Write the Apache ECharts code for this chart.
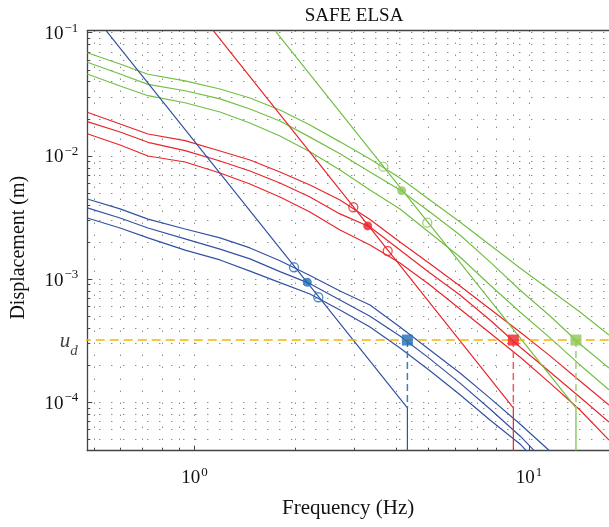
<!DOCTYPE html>
<html><head><meta charset="utf-8">
<script src="https://cdn.jsdelivr.net/npm/echarts@6/dist/echarts.min.js"></script>
<style>html,body{margin:0;padding:0;background:#fff}#c{width:609px;height:527px}</style>
</head><body><div id="c"></div>
<script>
// ---- data ----
const fGrid = [0.478, 0.599, 0.726, 0.937, 1.192, 1.465, 1.801, 2.214, 2.723, 3.347, 4.115, 5.058, 6.220, 7.646, 9.400, 11.56, 14.21, 17.35];
const blueTop = [4.47e-3, 3.71e-3, 3.07e-3, 2.55e-3, 2.16e-3, 1.79e-3, 1.41e-3, 1.07e-3, 8.01e-4, 6.16e-4, 4.09e-4, 2.66e-4, 1.73e-4, 1.08e-4, 6.67e-5];
const blueMid = [3.78e-3, 3.13e-3, 2.60e-3, 2.12e-3, 1.75e-3, 1.46e-3, 1.15e-3, 9.18e-4, 6.77e-4, 4.99e-4, 3.45e-4, 2.25e-4, 1.43e-4, 8.82e-5, 5.33e-5];
const blueLow = [3.13e-3, 2.60e-3, 2.16e-3, 1.72e-3, 1.43e-3, 1.16e-3, 9.35e-4, 7.57e-4, 5.61e-4, 4.09e-4, 2.76e-4, 1.80e-4, 1.15e-4, 7.18e-5, 4.59e-5];
const blueEnds = [[11.56, 4.0e-5], [10.42, 4.0e-5], [9.86, 4.0e-5]];
const redTop = [2.26e-2, 1.815e-2, 1.506e-2, 1.329e-2, 1.096e-2, 9.26e-3, 7.40e-3, 5.80e-3, 4.39e-3, 3.04e-3, 2.00e-3, 1.33e-3, 8.79e-4, 5.72e-4, 3.72e-4, 2.38e-4, 1.49e-4, 9.51e-5];
const redMid = [1.895e-2, 1.563e-2, 1.289e-2, 1.102e-2, 9.09e-3, 7.54e-3, 6.03e-3, 4.64e-3, 3.38e-3, 2.65e-3, 1.72e-3, 1.12e-3, 7.43e-4, 4.66e-4, 2.81e-4, 1.76e-4, 1.10e-4, 6.92e-5];
const redLow = [1.514e-2, 1.226e-2, 9.98e-3, 8.92e-3, 7.26e-3, 5.91e-3, 4.64e-3, 3.50e-3, 2.50e-3, 1.89e-3, 1.35e-3, 8.96e-4, 5.72e-4, 3.65e-4, 2.33e-4, 1.43e-4, 8.66e-5, 4.94e-5];
const greenTop = [6.88e-2, 5.57e-2, 4.60e-2, 4.06e-2, 3.49e-2, 2.95e-2, 2.36e-2, 1.78e-2, 1.30e-2, 9.44e-3, 6.62e-3, 4.39e-3, 2.91e-3, 1.89e-3, 1.23e-3, 8.16e-4, 5.41e-4, 3.52e-4];
const greenMid = [5.75e-2, 4.62e-2, 3.81e-2, 3.38e-2, 2.90e-2, 2.40e-2, 1.92e-2, 1.42e-2, 1.04e-2, 7.40e-3, 5.29e-3, 3.50e-3, 2.28e-3, 1.38e-3, 8.16e-4, 5.02e-4, 2.97e-4, 1.90e-4];
const greenLow = [4.62e-2, 3.69e-2, 3.08e-2, 2.70e-2, 2.27e-2, 1.85e-2, 1.45e-2, 1.08e-2, 7.68e-3, 5.29e-3, 3.71e-3, 2.37e-3, 1.51e-3, 8.96e-4, 5.41e-4, 3.33e-4, 2.01e-4, 1.26e-4];
const steepTopF = [0.544, 1.138, 1.741];
const verticalF = [4.33, 8.98, 13.82];
const kneeD = 9.0e-5;
const uD = 3.2e-4;
const uDStartF = 0.46;
const filledPts = [[2.174, 9.42e-4], [3.295, 2.70e-3], [4.163, 5.22e-3]];
const hollowPts = [[[1.984, 1.247e-3], [2.345, 7.12e-4]], [[2.984, 3.83e-3], [3.781, 1.69e-3]], [[3.667, 8.17e-3], [4.966, 2.87e-3]]];
const yTicks = [1e-4, 1e-3, 1e-2, 1e-1];
const xRange = [0.478, 17.35];
const yRange = [4.045e-5, 0.1038];

// ---- build ----
const lineCols = ['#3452A3', '#E8262B', '#72BF44'];
const markCols = ['#1F6DB8', '#EC2227', '#8DC75A'];
const dashCols = ['#3E7CC0', '#EE5A5E', '#9CD07A'];
const curves = [[blueTop, blueMid, blueLow], [redTop, redMid, redLow], [greenTop, greenMid, greenLow]];
const serif = 'Liberation Serif, Times New Roman, serif';

function pairs(arr, end) {
  const out = arr.map((d, i) => [fGrid[i], d]);
  if (end) out.push(end);
  return out;
}
const series = [];
curves.forEach((grp, gi) => {
  grp.forEach((arr, ci) => {
    series.push({type: 'line', data: pairs(arr, gi === 0 ? blueEnds[ci] : null), showSymbol: false, clip: true,
      lineStyle: {color: lineCols[gi], width: 1.2}, z: 3, silent: true});
  });
});
for (let gi = 0; gi < 3; gi++) {
  series.push({type: 'line', data: [[steepTopF[gi], yRange[1]], [verticalF[gi], kneeD], [verticalF[gi], yRange[0]]],
    showSymbol: false, clip: true, lineStyle: {color: lineCols[gi], width: 1.2}, z: 3, silent: true});
}
// u_d dashed line
series.push({type: 'line', data: [[uDStartF, uD], [xRange[1], uD]], showSymbol: false, clip: false,
  lineStyle: {color: '#F7B500', type: [9, 5], width: 1.5}, z: 5, silent: true});
series.push({type: 'scatter', data: [[uDStartF, uD]], symbolSize: 0, clip: false, silent: true, z: 5,
  label: {show: true, position: 'left', distance: 4, formatter: '{u|u}{d|d}',
    rich: {u: {fontFamily: serif, fontStyle: 'italic', fontSize: 21, color: '#111', verticalAlign: 'bottom', lineHeight: 24},
           d: {fontFamily: serif, fontStyle: 'italic', fontSize: 15, color: '#111', verticalAlign: 'bottom', padding: [0, 0, -7, 0]}}}});
for (let gi = 0; gi < 3; gi++) {
  series.push({type: 'line', data: [[verticalF[gi], uD], [verticalF[gi], kneeD]], showSymbol: false,
    lineStyle: {color: dashCols[gi], width: 1.5, type: [7, 4]}, z: 4, silent: true});
  series.push({type: 'scatter', data: [filledPts[gi]], symbol: 'circle', symbolSize: 9,
    itemStyle: {color: markCols[gi]}, z: 6, silent: true});
  series.push({type: 'scatter', data: hollowPts[gi], symbol: 'circle', symbolSize: 9,
    itemStyle: {color: 'rgba(255,255,255,0)', borderColor: markCols[gi], borderWidth: 1.3}, z: 6, silent: true});
  series.push({type: 'scatter', data: [[verticalF[gi], uD]], symbol: 'rect', symbolSize: 11,
    itemStyle: {color: markCols[gi]}, z: 7, silent: true});
}

function powLabel(v) {
  const e = Math.log10(v);
  const r = Math.round(e);
  if (Math.abs(e - r) > 1e-6) return '';
  return '{b|10}{e|' + (r < 0 ? '\u2212' + (-r) : r) + '}';
}
const labRich = {b: {fontFamily: serif, fontSize: 19, color: '#111', verticalAlign: 'bottom', lineHeight: 22},
                 e: {fontFamily: serif, fontSize: 13, color: '#111', verticalAlign: 'top', padding: [0, 0, 7, 1]}};
const dots = {type: [1, 11], color: '#222', width: 1, opacity: 0.75};

const option = {
  animation: false,
  backgroundColor: '#fff',
  title: {text: 'SAFE ELSA', left: 349, top: 2, textAlign: 'center',
    textStyle: {fontFamily: serif, fontSize: 19, fontWeight: 'normal', color: '#111'}},
  grid: {left: 87.3, right: 0, top: 30.7, bottom: 76.3, containLabel: false},
  xAxis: [{type: 'log', min: xRange[0], max: xRange[1], logBase: 10,
    name: 'Frequency (Hz)', nameLocation: 'middle', nameGap: 47,
    nameTextStyle: {fontFamily: serif, fontSize: 21, color: '#111'},
    axisLine: {show: true, onZero: false, lineStyle: {color: '#444', width: 1.3}},
    axisTick: {show: true, inside: true, length: 5, lineStyle: {color: '#444'}},
    minorTick: {show: true, splitNumber: 9, length: 3, lineStyle: {color: '#444'}},
    axisLabel: {formatter: powLabel, rich: labRich, margin: 15, showMinLabel: false, showMaxLabel: false},
    splitLine: {show: true, lineStyle: dots},
    minorSplitLine: {show: true, lineStyle: dots}},
   {type: 'log', min: xRange[0], max: xRange[1], position: 'top',
    axisLine: {show: true, onZero: false, lineStyle: {color: '#444', width: 1.3}},
    axisTick: {show: false}, axisLabel: {show: false}, splitLine: {show: false}}],
  yAxis: {type: 'log', min: yRange[0], max: yRange[1], logBase: 10,
    name: 'Displacement (m)', nameLocation: 'middle', nameGap: 59,
    nameTextStyle: {fontFamily: serif, fontSize: 20, color: '#111', padding: [0, 14, 0, 0]},
    axisLine: {show: true, onZero: false, lineStyle: {color: '#444', width: 1.3}},
    axisTick: {show: true, inside: true, length: 5, lineStyle: {color: '#444'}},
    minorTick: {show: true, splitNumber: 9, length: 3, lineStyle: {color: '#444'}},
    axisLabel: {formatter: powLabel, rich: labRich, margin: 9, showMinLabel: false, showMaxLabel: false},
    splitLine: {show: true, lineStyle: dots},
    minorSplitLine: {show: true, lineStyle: dots}},
  series: series
};
const chart = echarts.init(document.getElementById('c'), null, {renderer: 'canvas'});
chart.setOption(option);
</script></body></html>
